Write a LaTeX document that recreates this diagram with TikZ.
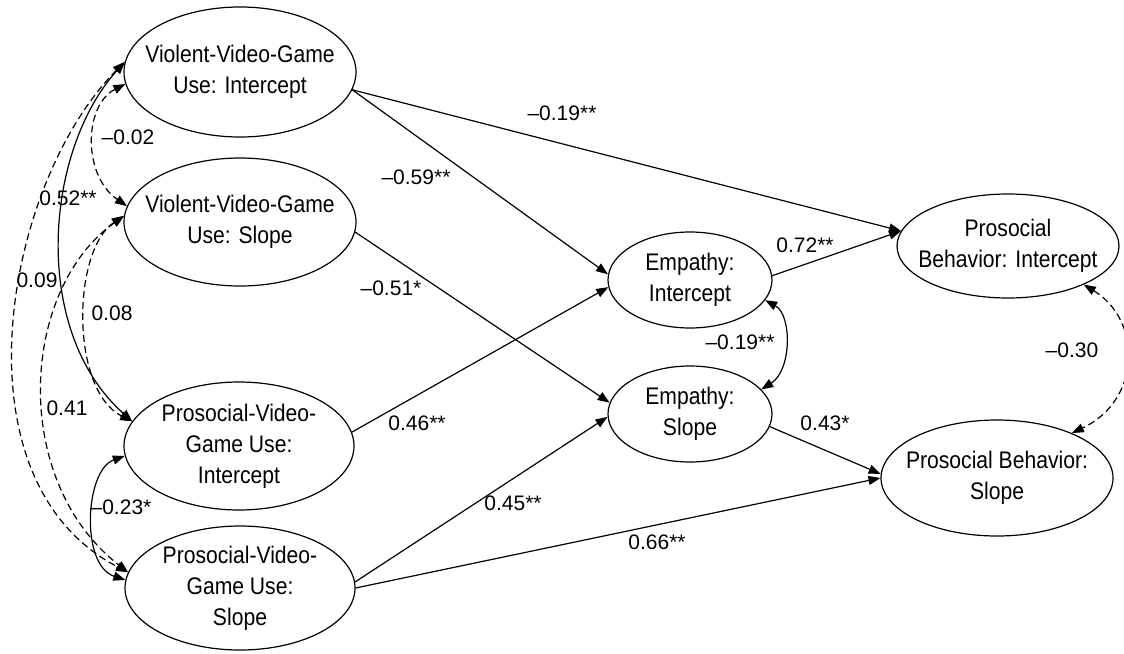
\documentclass[tikz,border=0pt]{standalone}
\usepackage{fontspec}
\setmainfont{Liberation Sans}
\newfontfamily\nodefont{Liberation Sans}[FakeStretch=0.88]
\usetikzlibrary{arrows.meta,shapes.geometric}
\begin{document}
\begin{tikzpicture}[x=1pt,y=-1pt,
  lat/.style={ellipse,draw,line width=1.2pt,inner sep=0pt},
  txt/.style={inner sep=0pt,align=center,font=\nodefont\fontsize{24}{31}\selectfont},
  lab/.style={inner sep=0pt,font=\fontsize{21}{25}\selectfont},
  reg/.style={line width=1.2pt,-{Triangle[length=12pt,width=9pt]}},
  cov/.style={line width=1.2pt,{Triangle[length=12pt,width=9pt]}-{Triangle[length=12pt,width=9pt]}},
  dsh/.style={dash pattern=on 7pt off 4pt}]
\useasboundingbox (0,0) rectangle (1124,653);
% latent nodes
\node[lat,minimum width=232pt,minimum height=130pt] (VI) at (240,72) {};
\node[txt] (VIt) at (VI) {Violent-Video-Game\\Use: Intercept};
\node[lat,minimum width=232pt,minimum height=128pt] (VS) at (240,222) {};
\node[txt] (VSt) at (VS) {Violent-Video-Game\\Use: Slope};
\node[lat,minimum width=230pt,minimum height=128pt] (PI) at (239,446) {};
\node[txt] (PIt) at (PI) {Prosocial-Video-\\Game Use:\\Intercept};
\node[lat,minimum width=230pt,minimum height=124pt] (PS) at (240,588) {};
\node[txt] (PSt) at (PS) {Prosocial-Video-\\Game Use:\\Slope};
\node[lat,minimum width=164pt,minimum height=96pt] (EI) at (690,280) {};
\node[txt] (EIt) at (EI) {Empathy:\\Intercept};
\node[lat,minimum width=164pt,minimum height=96pt] (ES) at (690,414) {};
\node[txt] (ESt) at (ES) {Empathy:\\Slope};
\node[lat,minimum width=222pt,minimum height=104pt] (PBI) at (1008,246) {};
\node[txt] (PBIt) at (PBI) {Prosocial\\Behavior: Intercept};
\node[lat,minimum width=232pt,minimum height=116pt] (PBS) at (997,478) {};
\node[txt] (PBSt) at (PBS) {Prosocial Behavior:\\Slope};
% regression paths
\draw[reg] (VI.-9) -- (EI.176);
\draw[reg] (VI.-9) -- (PBI.172);
\draw[reg] (PI.7) -- (EI.185);
\draw[reg] (VS.-5) -- (ES.172);
\draw[reg] (PS.3) -- (ES.182);
\draw[reg] (PS.0) -- (PBS.180);
\draw[reg] (EI.3) -- (PBI.172);
\draw[reg] (ES.-9) -- (PBS.178);
% covariances
\draw[cov,dsh] (VI.186) .. controls (84,105) and (82,175) .. (VS.172);
\draw[cov] (VI.175) .. controls (45,150) and (30,330) .. (PI.167);
\draw[cov,dsh] (VI.175) .. controls (5,182) and (-50,480) .. (PS.172);
\draw[cov,dsh] (VS.177) .. controls (72,250) and (70,390) .. (PI.167);
\draw[cov,dsh] (VS.177) .. controls (20,290) and (10,480) .. (PS.172);
\draw[cov] (PI.185) .. controls (85,470) and (80,565) .. (PS.176);
\draw[cov] (EI.-15) .. controls (792,315) and (792,370) .. (ES.19);
\draw[cov,dsh] (PBI.-27) .. controls (1142,320) and (1142,400) .. (PBS.31.5);
% labels
\node[lab] (l1) at (562,113) {–0.19**};
\node[lab] (l2) at (416,177) {–0.59**};
\node[lab] (l3) at (391,288) {–0.51*};
\node[lab] (l4) at (805,245) {0.72**};
\node[lab] (l5) at (740,342) {–0.19**};
\node[lab] (l6) at (825,423) {0.43*};
\node[lab] (l7) at (1072,350) {–0.30};
\node[lab] (l8) at (417,423) {0.46**};
\node[lab] (l9) at (513,503) {0.45**};
\node[lab] (l10) at (657,542) {0.66**};
\node[lab] (l11) at (128,137) {–0.02};
\node[lab] (l12) at (68,198) {0.52**};
\node[lab] (l13) at (37,280) {0.09};
\node[lab] (l14) at (112,313) {0.08};
\node[lab] (l15) at (67,408) {0.41};
\node[lab] (l16) at (121,507) {–0.23*};
\end{tikzpicture}
\end{document}
